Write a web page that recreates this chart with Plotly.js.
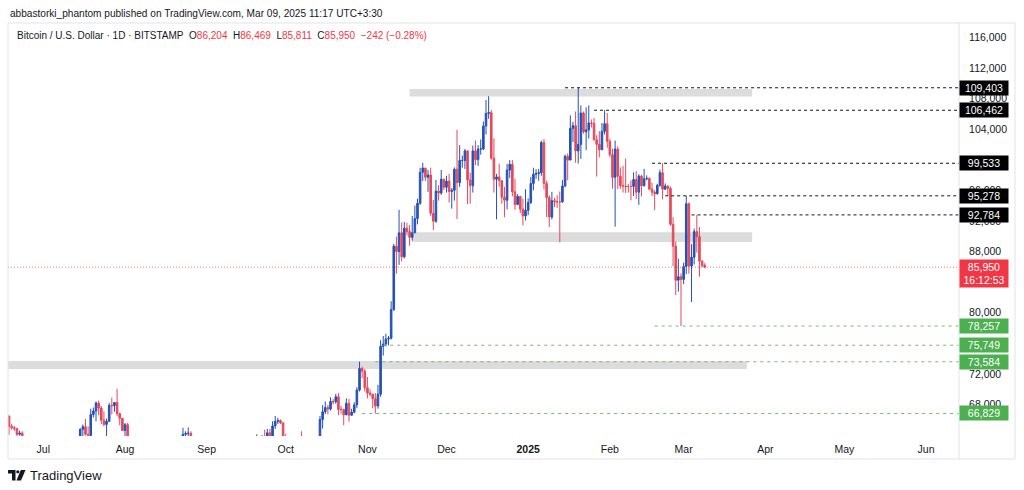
<!DOCTYPE html>
<html><head><meta charset="utf-8">
<script src="https://cdn.plot.ly/plotly-3.0.1.min.js"></script>
<style>html,body{margin:0;padding:0;background:#fff;}#chart{width:1024px;height:490px;}</style>
</head><body><div id="chart"></div>
<script>
// ---------- DATA (BTC/USD daily, Bitstamp) ----------
const dates = [
'2024-06-15','2024-06-16','2024-06-17','2024-06-18','2024-06-19','2024-06-20','2024-06-21','2024-06-22','2024-06-23','2024-06-24','2024-06-25','2024-06-26','2024-06-27','2024-06-28','2024-06-29','2024-06-30',
'2024-07-01','2024-07-02','2024-07-03','2024-07-04','2024-07-05','2024-07-06','2024-07-07','2024-07-08','2024-07-09','2024-07-10','2024-07-11','2024-07-12','2024-07-13','2024-07-14','2024-07-15','2024-07-16','2024-07-17','2024-07-18','2024-07-19','2024-07-20','2024-07-21','2024-07-22','2024-07-23','2024-07-24','2024-07-25','2024-07-26','2024-07-27','2024-07-28','2024-07-29','2024-07-30','2024-07-31',
'2024-08-01','2024-08-02','2024-08-03','2024-08-04','2024-08-05','2024-08-06','2024-08-07','2024-08-08','2024-08-09','2024-08-10','2024-08-11','2024-08-12','2024-08-13','2024-08-14','2024-08-15','2024-08-16','2024-08-17','2024-08-18','2024-08-19','2024-08-20','2024-08-21','2024-08-22','2024-08-23','2024-08-24','2024-08-25','2024-08-26','2024-08-27','2024-08-28','2024-08-29','2024-08-30','2024-08-31',
'2024-09-01','2024-09-02','2024-09-03','2024-09-04','2024-09-05','2024-09-06','2024-09-07','2024-09-08','2024-09-09','2024-09-10','2024-09-11','2024-09-12','2024-09-13','2024-09-14','2024-09-15','2024-09-16','2024-09-17','2024-09-18','2024-09-19','2024-09-20','2024-09-21','2024-09-22','2024-09-23','2024-09-24','2024-09-25','2024-09-26','2024-09-27','2024-09-28','2024-09-29','2024-09-30',
'2024-10-01','2024-10-02','2024-10-03','2024-10-04','2024-10-05','2024-10-06','2024-10-07','2024-10-08','2024-10-09','2024-10-10','2024-10-11','2024-10-12','2024-10-13','2024-10-14','2024-10-15','2024-10-16','2024-10-17','2024-10-18','2024-10-19','2024-10-20','2024-10-21','2024-10-22','2024-10-23','2024-10-24','2024-10-25','2024-10-26','2024-10-27','2024-10-28','2024-10-29','2024-10-30','2024-10-31',
'2024-11-01','2024-11-02','2024-11-03','2024-11-04','2024-11-05','2024-11-06','2024-11-07','2024-11-08','2024-11-09','2024-11-10','2024-11-11','2024-11-12','2024-11-13','2024-11-14','2024-11-15','2024-11-16','2024-11-17','2024-11-18','2024-11-19','2024-11-20','2024-11-21','2024-11-22','2024-11-23','2024-11-24','2024-11-25','2024-11-26','2024-11-27','2024-11-28','2024-11-29','2024-11-30',
'2024-12-01','2024-12-02','2024-12-03','2024-12-04','2024-12-05','2024-12-06','2024-12-07','2024-12-08','2024-12-09','2024-12-10','2024-12-11','2024-12-12','2024-12-13','2024-12-14','2024-12-15','2024-12-16','2024-12-17','2024-12-18','2024-12-19','2024-12-20','2024-12-21','2024-12-22','2024-12-23','2024-12-24','2024-12-25','2024-12-26','2024-12-27','2024-12-28','2024-12-29','2024-12-30','2024-12-31',
'2025-01-01','2025-01-02','2025-01-03','2025-01-04','2025-01-05','2025-01-06','2025-01-07','2025-01-08','2025-01-09','2025-01-10','2025-01-11','2025-01-12','2025-01-13','2025-01-14','2025-01-15','2025-01-16','2025-01-17','2025-01-18','2025-01-19','2025-01-20','2025-01-21','2025-01-22','2025-01-23','2025-01-24','2025-01-25','2025-01-26','2025-01-27','2025-01-28','2025-01-29','2025-01-30','2025-01-31',
'2025-02-01','2025-02-02','2025-02-03','2025-02-04','2025-02-05','2025-02-06','2025-02-07','2025-02-08','2025-02-09','2025-02-10','2025-02-11','2025-02-12','2025-02-13','2025-02-14','2025-02-15','2025-02-16','2025-02-17','2025-02-18','2025-02-19','2025-02-20','2025-02-21','2025-02-22','2025-02-23','2025-02-24','2025-02-25','2025-02-26','2025-02-27','2025-02-28',
'2025-03-01','2025-03-02','2025-03-03','2025-03-04','2025-03-05','2025-03-06','2025-03-07','2025-03-08','2025-03-09'
];
const open = [
66000,66200,66650,66500,65150,64950,64850,64100,64250,63200,60300,61800,60850,61600,60350,60900,
62700,62850,62050,60200,57050,56650,58250,55850,56700,58050,57750,57350,57900,59200,60800,64750,65100,64100,63950,66700,67150,68200,67550,65950,65400,65800,67900,67850,68250,66800,66200,
64600,65350,61450,60650,58100,54000,56050,55150,61700,60850,60900,58700,59350,60600,58700,57550,58900,59500,58400,59450,59000,61150,60400,64100,64200,64250,62850,59400,59050,59350,59100,
58950,57300,59100,57450,57950,56150,53950,54850,54850,57050,57650,57350,58100,60550,60000,59150,58200,60300,61750,62950,63200,63350,63600,63350,64300,63150,65200,65800,65900,65600,
63300,60800,60650,60750,62100,62050,62800,62250,62150,60600,60300,62450,63200,62850,66050,67050,67600,67400,68400,68350,69000,67350,67350,66650,68150,66600,67000,67950,69900,72700,72350,
70200,69500,69350,68750,67800,69350,75600,75900,76550,76650,80400,88700,88000,90450,87300,91050,90600,89850,90450,92300,94300,98350,98900,97700,98000,93000,91950,95900,95650,97450,
96400,97200,95850,96000,98750,97000,99900,99900,101150,97350,96600,101150,100000,101400,101400,104400,106050,106150,100200,97450,97750,97250,95100,94700,98650,99400,95800,94150,95200,93550,92650,
93400,94400,96900,98100,98200,98300,102250,96900,95050,92500,94650,94500,94500,94500,96550,100450,99950,104100,104450,101150,102000,106100,103650,103900,104800,104750,102600,102000,101300,103700,104700,
102400,100650,97700,101400,97850,96600,96550,96500,96500,96500,97400,95750,97850,96600,97500,97550,96150,95750,95550,96650,98300,96150,96550,96250,91550,88700,84250,84700,
84350,86050,94250,86100,87250,90600,89950,86750,86204
];
const high = [
66400,66980,67250,66550,65500,65200,64950,64600,64500,63350,62350,62450,62300,62200,61200,63000,
63800,63250,62250,60500,57500,58450,58450,58200,58300,59450,59400,58500,59850,61400,64900,65400,66100,65150,67450,67600,68400,68500,67800,67100,66150,68200,68900,68300,70050,66950,66250,
65600,65600,62150,61100,58300,57000,57650,62700,61750,61450,61800,60700,61550,61750,59800,59800,59650,60250,59600,61400,61800,61400,64950,64500,65000,64500,63250,60250,61200,59950,59450,
59050,59400,59800,58500,58300,56950,54850,55300,58100,58000,57950,58600,60650,60650,60400,59200,61350,61800,63850,64100,63550,64000,64700,64800,64800,65800,66500,66250,66050,65650,
64150,62400,61500,62500,62350,62950,64500,63200,62500,61300,63400,63450,63300,66500,67900,68400,67950,68950,68700,69400,69500,67800,67450,68800,68750,67450,68300,70250,73600,72950,72650,
71600,70000,69400,69500,70550,76400,76950,77250,76950,81500,89000,89950,93450,91800,91850,91750,91450,92650,94000,94900,98950,99600,98950,98650,98950,94750,97350,96650,98650,97500,
97900,98150,96300,99000,103900,101900,100550,101400,101200,98300,101850,102500,101900,102650,105000,107800,108300,106500,102800,98150,99500,97350,96450,99450,99950,99950,97500,95500,95250,94900,96150,
94950,97750,98950,98750,98800,102500,102700,97250,95350,95800,95000,95350,95850,97350,100650,100800,105800,104950,106300,109403,107100,106300,106850,107100,105250,105450,103200,103750,104800,106462,106100,
102750,101450,102500,101750,99000,99200,100150,96850,97300,98350,98500,98100,98050,98800,97950,97700,97000,96000,96850,98700,99533,96900,96650,96500,92500,89300,87050,85150,
86550,95278,94400,88950,91000,92784,91200,86850,86469
];
const low = [
65870,66050,65100,64050,64700,64550,63400,63950,63200,58450,60250,60650,60650,60100,60350,60700,
62450,61800,59450,56800,53500,56050,55800,54300,56300,57200,57100,56550,57750,59200,60650,62450,63950,63250,63300,66300,65800,66600,65450,65150,63400,65750,66700,67050,66500,65300,64550,
62300,61200,59850,57200,49050,54000,54600,54750,59600,60300,58400,57650,58450,58450,56100,57100,58800,58400,57850,58600,58800,59800,60350,63600,63800,62800,58100,57850,58800,57750,58750,
57250,57150,57450,55600,55700,52550,53750,53650,54600,56400,55550,57350,57650,59500,58700,57500,57650,59200,61600,62400,62800,62400,62700,62700,62950,62700,64800,65450,65450,62850,
60200,60050,59850,60450,61650,61850,62150,61850,60300,58900,60050,62450,62050,62450,64850,66750,66700,67200,68000,68100,66600,66800,65300,66600,65750,66550,66850,67550,69700,71450,69700,
68800,69050,67500,66829,67450,69000,74400,75600,75750,76500,80250,85100,86250,86700,87100,90100,88750,89400,90400,91550,94100,97200,97200,95800,92650,90800,91750,94650,95400,96050,
95700,94400,93600,94650,92250,96450,98950,98800,94200,94250,95700,99300,99200,100650,101250,103300,105350,100000,95700,92200,96450,94250,92500,93500,97600,95200,93450,94050,93000,91400,92050,
92750,94200,96000,97500,97250,97900,96100,92500,91200,92200,93800,93700,89200,94350,96450,97300,99950,102300,99600,99500,100100,103400,101250,102750,104200,102500,97800,100300,101300,103300,101550,
100300,96200,91250,96150,96200,95700,95650,95700,94700,95250,94850,94100,95200,96500,97300,96050,95250,93400,95450,96450,94800,96050,95250,91350,86100,82300,82750,78257,
83750,85050,85100,81400,86300,87850,84700,85950,85811
];
const close = [
66200,66650,66500,65150,64950,64850,64100,64250,63200,60300,61800,60850,61600,60350,60900,62700,
62850,62050,60200,57050,56650,58250,55850,56700,58050,57750,57350,57900,59200,60800,64750,65100,64100,63950,66700,67150,68200,67550,65950,65400,65800,67900,67850,68250,66800,66200,64600,
65350,61450,60650,58100,54000,56050,55150,61700,60850,60900,58700,59350,60600,58700,57550,58900,59500,58400,59450,59000,61150,60400,64100,64200,64250,62850,59400,59050,59350,59100,58950,
57300,59100,57450,57950,56150,53950,54850,54850,57050,57650,57350,58100,60550,60000,59150,58200,60300,61750,62950,63200,63350,63600,63350,64300,63150,65200,65800,65900,65600,63300,
60800,60650,60750,62100,62050,62800,62250,62150,60600,60300,62450,63200,62850,66050,67050,67600,67400,68400,68350,69000,67350,67350,66650,68150,66600,67000,67950,69900,72700,72350,70200,
69500,69350,68750,67800,69350,75600,75900,76550,76650,80400,88700,88000,90450,87300,91050,90600,89850,90450,92300,94300,98350,98900,97700,98000,93000,91950,95900,95650,97450,96400,
97200,95850,96000,98750,97000,99900,99900,101150,97350,96600,101150,100000,101400,101400,104400,106050,106150,100200,97450,97750,97250,95100,94700,98650,99400,95800,94150,95200,93550,92650,93400,
94400,96900,98100,98200,98300,102250,96900,95050,92500,94650,94500,94500,94500,96550,100450,99950,104100,104450,101150,102000,106100,103650,103900,104800,104750,102600,102000,101300,103700,104700,102400,
100650,97700,101400,97850,96600,96550,96500,96500,96500,97400,95750,97850,96600,97500,97550,96150,95750,95550,96650,98300,96150,96550,96250,91550,88700,84250,84700,84350,
86050,94250,86100,87250,90600,89950,86750,86192,85950
];

const monthTicks = ['2024-07-01','2024-08-01','2024-09-01','2024-10-01','2024-11-01','2024-12-01','2025-01-01','2025-02-01','2025-03-01','2025-04-01','2025-05-01','2025-06-01'];
const monthLabels = ['Jul','Aug','Sep','Oct','Nov','Dec','<b>2025</b>','Feb','Mar','Apr','May','Jun'];
// price scale labels that show in the reference (others sit fully under the level tags)
const priceTicks = [68000,72000,80000,88000,92000,96000,104000,108000,112000,116000];

// user-drawn levels
const resistLevels = [109403,106462,99533,95278,92784];
const resistStarts = ['2025-01-15','2025-01-26','2025-02-17','2025-02-22','2025-03-04'];
const supportLevels = [78257,75749,73584,66829];
const supportStarts = ['2025-02-18','2024-11-07','2024-11-04','2024-10-30'];
// gray zones
const zoneLow   = [108250, 89250, 72650];
const zoneHigh  = [109250, 90500, 73700];
const zoneStart = ['2024-11-17','2024-11-18','2024-06-01'];
const zoneEnd   = ['2025-03-27','2025-03-27','2025-03-25'];

const lastPrice = 85950;
const countdown = '16:12:53';
const headerText = 'abbastorki_phantom published on TradingView.com, Mar 09, 2025 11:17 UTC+3:30';
const symbolText = 'Bitcoin / U.S. Dollar · 1D · BITSTAMP';
const ohlcText = ['86,204','86,469','85,811','85,950','−242 (−0.28%)'];

// ---------- LAYOUT ----------
const L = 8, R = 959, T = 23, B = 436;
const px = x => (x - L) / (R - L);
const py = y => (B - y) / (B - T);
const FONT = 'Liberation Sans, Arial, sans-serif';
const UP = '#2450b8', DOWN = '#e5485b', RED = '#f23645', GREEN = '#4caf50', FRAME = '#e0e3eb';
const fmt = v => v.toLocaleString('en-US');

const trace = {
  type: 'candlestick', x: dates, open: open, high: high, low: low, close: close,
  increasing: {line: {color: UP, width: 1}, fillcolor: UP},
  decreasing: {line: {color: DOWN, width: 1}, fillcolor: DOWN},
  whiskerwidth: 0, hoverinfo: 'none', showlegend: false
};

const shapes = [];
zoneLow.forEach((lo, i) => shapes.push({type: 'rect', xref: 'x', yref: 'y', x0: zoneStart[i], x1: zoneEnd[i], y0: lo, y1: zoneHigh[i], fillcolor: '#dcdcdc', line: {width: 0}, layer: 'below'}));
resistLevels.forEach((v, i) => shapes.push({type: 'line', xref: 'x', yref: 'y', x0: resistStarts[i], x1: '2025-07-01', y0: v, y1: v, line: {color: '#131722', width: 1, dash: '3px,3px'}}));
supportLevels.forEach((v, i) => shapes.push({type: 'line', xref: 'x', yref: 'y', x0: supportStarts[i], x1: '2025-07-01', y0: v, y1: v, line: {color: '#6dbb71', width: 1, dash: '3px,4px'}}));
shapes.push({type: 'line', xref: 'paper', yref: 'y', x0: 0, x1: 1, y0: lastPrice, y1: lastPrice, line: {color: 'rgba(242,54,69,0.7)', width: 1, dash: '1px,2px'}});
// frame
const fl = (x0, y0, x1, y1) => ({type: 'line', xref: 'paper', yref: 'paper', x0: px(x0), x1: px(x1), y0: py(y0), y1: py(y1), line: {color: FRAME, width: 1}});
shapes.push(fl(8, 23, 1015, 23), fl(8, 459, 1015, 459), fl(8, 23, 8, 459), fl(1015, 23, 1015, 459), fl(959, 23, 959, 459));
// TradingView logo
const pth = pts => 'M' + pts.map(p => px(p[0]) + ',' + py(p[1])).join(' L') + ' Z';
shapes.push({type: 'path', xref: 'paper', yref: 'paper', path: pth([[8,470],[15.5,470],[15.5,480.5],[12,480.5],[12,473.5],[8,473.5]]), fillcolor: '#131722', line: {width: 0}});
shapes.push({type: 'circle', xref: 'paper', yref: 'paper', x0: px(16.2), x1: px(19.4), y0: py(470.2), y1: py(473.4), fillcolor: '#131722', line: {width: 0}});
shapes.push({type: 'path', xref: 'paper', yref: 'paper', path: pth([[20.8,470],[25.5,470],[21,480.5],[16.5,480.5]]), fillcolor: '#131722', line: {width: 0}});

const annotations = [];
annotations.push({xref: 'paper', yref: 'paper', x: px(8), y: py(14), xanchor: 'left', yanchor: 'middle', showarrow: false, text: headerText, font: {family: FONT, size: 10.1, color: '#131722'}});
const red = s => '<span style="color:' + RED + '">' + s + '</span>';
annotations.push({xref: 'paper', yref: 'paper', x: px(15), y: py(35.5), xanchor: 'left', yanchor: 'middle', showarrow: false,
  text: symbolText + '\u00a0\u00a0O' + red(ohlcText[0]) + '\u00a0\u00a0H' + red(ohlcText[1]) + '\u00a0\u00a0L' + red(ohlcText[2]) + '\u00a0\u00a0C' + red(ohlcText[3]) + '\u00a0\u00a0' + red(ohlcText[4]),
  font: {family: FONT, size: 10, color: '#131722'}});
annotations.push({xref: 'paper', yref: 'paper', x: px(28), y: py(475), xanchor: 'left', yanchor: 'middle', showarrow: false, text: 'TradingView', font: {family: FONT, size: 13, color: '#131722'}});
const tag = (v, bg) => ({xref: 'paper', yref: 'y', x: 1, y: v, xanchor: 'left', yanchor: 'middle', showarrow: false, text: fmt(v), bgcolor: bg, width: 46, height: 12, borderpad: 1, font: {family: FONT, size: 10.5, color: '#ffffff'}});
resistLevels.forEach(v => annotations.push(tag(v, '#000000')));
supportLevels.forEach(v => annotations.push(tag(v, GREEN)));
annotations.push({xref: 'paper', yref: 'y', x: 1, y: lastPrice, xanchor: 'left', yanchor: 'top', yshift: 8, showarrow: false, text: fmt(lastPrice) + '<br>' + countdown, bgcolor: RED, width: 46, height: 25, borderpad: 1, align: 'center', font: {family: FONT, size: 10.5, color: '#ffffff'}});

const layout = {
  width: 1024, height: 490,
  margin: {l: L, r: 1024 - R, t: T, b: 490 - B, pad: 0},
  paper_bgcolor: '#ffffff', plot_bgcolor: '#ffffff',
  showlegend: false, boxgap: 0.25, boxgroupgap: 0.2,
  xaxis: {type: 'date', range: ['2024-06-17 14:24', '2025-06-13 12:00'], showgrid: false, zeroline: false, showline: false,
    tickmode: 'array', tickvals: monthTicks, ticktext: monthLabels, ticks: 'outside', ticklen: 3, tickcolor: 'rgba(0,0,0,0)',
    tickfont: {family: FONT, size: 10.5, color: '#131722'}, rangeslider: {visible: false}, fixedrange: true},
  yaxis: {side: 'right', range: [63882, 117869], showgrid: false, zeroline: false, showline: false,
    tickmode: 'array', tickvals: priceTicks, ticktext: priceTicks.map(fmt), ticks: 'outside', ticklen: 7, tickcolor: 'rgba(0,0,0,0)',
    tickfont: {family: FONT, size: 10.5, color: '#131722'}, fixedrange: true},
  shapes: shapes, annotations: annotations
};

Plotly.newPlot('chart', [trace], layout, {staticPlot: true, displayModeBar: false});
</script>
</body></html>
